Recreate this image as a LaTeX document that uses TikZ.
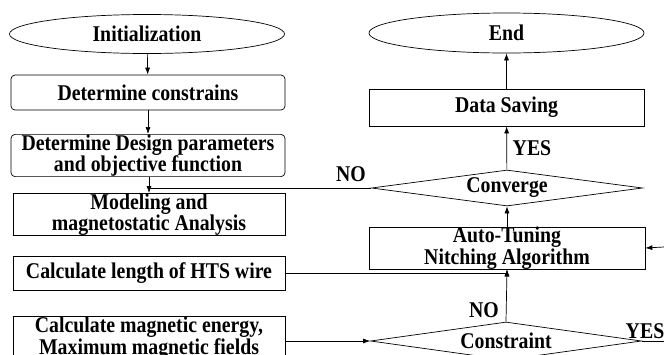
\documentclass[tikz,border=0pt]{standalone}
\usepackage{fontspec}
\setmainfont[FakeStretch=0.88]{Liberation Serif}
\usetikzlibrary{shapes.geometric,arrows.meta,positioning}

\begin{document}
\begin{tikzpicture}[x=1pt,y=-1pt,line width=0.7pt,
	every node/.style={font=\bfseries\fontsize{22.5}{18}\selectfont, align=center, inner sep=0pt},
	terminal/.style={draw, ellipse, minimum width=275pt, minimum height=39pt},
	stepbox/.style={draw, rectangle, minimum width=272pt, minimum height=35pt},
	roundbox/.style={stepbox, rounded corners=4pt, minimum width=274pt},
	decision/.style={draw, diamond, aspect=7.5, minimum width=271pt, minimum height=36pt},
	flow/.style={-{Latex[length=7pt,width=5pt]}}]
	
	\useasboundingbox (0,0) rectangle (664,354);
	\clip (0,0) rectangle (664,354);
	
	% left column
	\node[terminal] (init) at (147,34) {Initialization};
	\node[roundbox] (cons) at (148,92.5) {Determine constrains};
	\node[roundbox, minimum height=39pt] (design) at (148,155.5) {Determine Design parameters\\and objective function};
	\node[stepbox] (model) at (149,214.5) {Modeling and\\magnetostatic Analysis};
	\node[stepbox, minimum height=34pt] (length) at (149,273) {Calculate length of HTS wire};
	\node[stepbox, minimum height=36pt] (energy) at (149,338) {Calculate magnetic energy,\\Maximum magnetic fields};
	
	% right column
	\node[terminal, minimum height=40pt] (end) at (506.5,33) {End};
	\node[stepbox, minimum width=275pt, minimum height=37pt] (save) at (506.5,107.5) {Data Saving};
	\node[decision] (conv) at (507,188) {Converge};
	\node[stepbox, minimum width=276pt, minimum height=40pt] (tune) at (507,248) {Auto-Tuning\\Nitching Algorithm};
	\node[decision, minimum height=38pt] (constr) at (506,341) {Constraint};
	
	\coordinate (tunein) at (664,247);
	\coordinate (yesend) at (664,341);
	
	\draw[flow] (init) -- (cons);
	\draw[flow] (cons) -- (design);
	\draw[flow] (design.south -| model.north) -- (model.north);
	\draw (conv.west) -- (conv.west -| model.north);
	\draw[flow] (length.east) -- (length.east -| tune.south) -- (tune.south);
	\draw[flow] (energy.east |- constr.west) -- (constr.west);
	\draw[flow] (constr.north) -- (tune.south);
	\draw[flow] (tunein) -- (tune.east);
	\draw[flow] (tune) -- (conv);
	\draw[flow] (conv) -- (save);
	\draw[flow] (save) -- (end);
	\draw (constr.east) -- (yesend);
	
	\node (no1) at (351,174) {NO};
	\node (yes1) at (532,148) {YES};
	\node (no2) at (484,310) {NO};
	\node (yes2) at (645,331) {YES};
\end{tikzpicture}
\end{document}
